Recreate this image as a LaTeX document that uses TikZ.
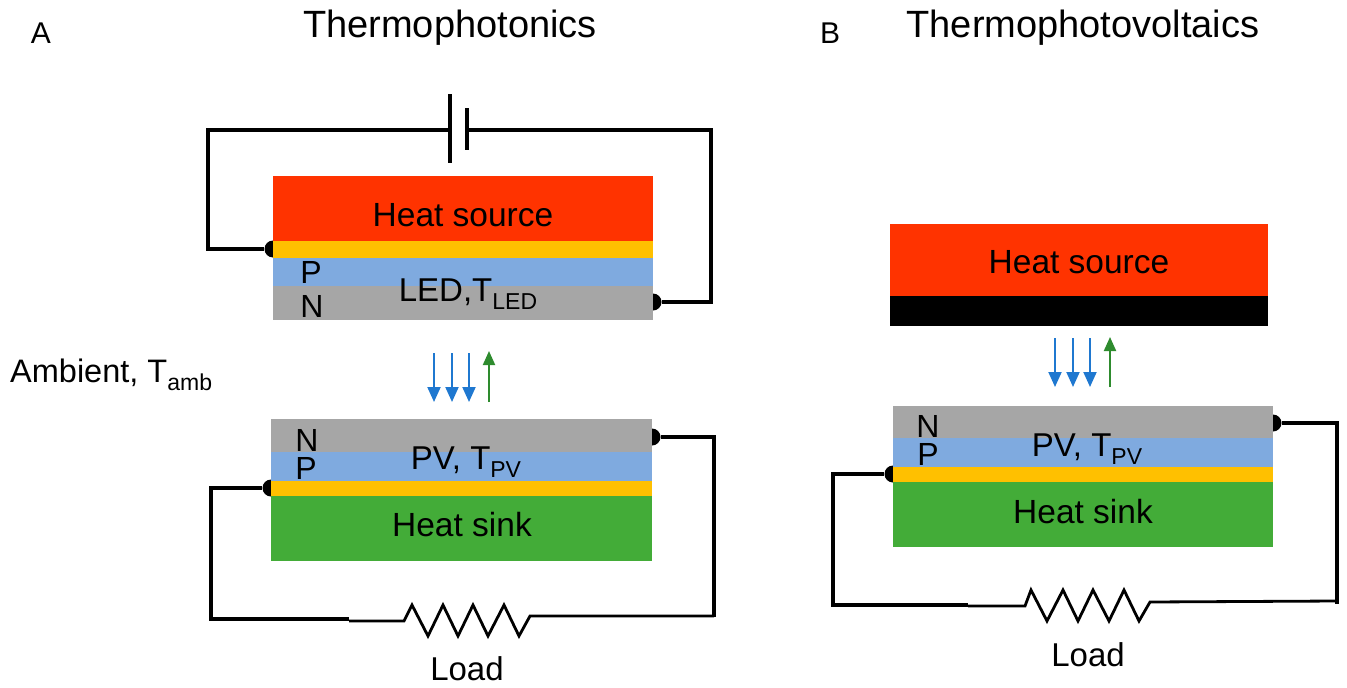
\documentclass[tikz,border=0pt]{standalone}
\usepackage{fontspec}
\setmainfont{Liberation Sans}
\usepackage{tikz}
\usetikzlibrary{arrows.meta}

\newcommand{\lowsub}[1]{\raisebox{-8pt}{\fontsize{23}{23}\selectfont #1}}
\tikzset{
	layer/.style={anchor=north west,inner sep=0pt,outer sep=0pt,fill=#1},
	txt/.style={inner sep=0pt,font=\fontsize{#1}{#1}\selectfont},
	contact/.style={circle,fill=black,inner sep=0pt,minimum size=17pt},
	wire/.style={line width=3.2pt,line join=miter},
	thinwire/.style={line width=2.8pt,line join=miter},
	inflow/.style={line width=2pt,draw=arrowblue,-{Triangle[width=13pt,length=15pt]}},
	outflow/.style={line width=2pt,draw=arrowgreen,-{Triangle[width=12pt,length=14pt]}}
}
\definecolor{sourcered}{HTML}{FF3300}
\definecolor{contactyellow}{HTML}{FFC000}
\definecolor{pblue}{HTML}{7FAADF}
\definecolor{ngray}{HTML}{A6A6A6}
\definecolor{sinkgreen}{HTML}{43AC38}
\definecolor{arrowblue}{HTML}{1F78D0}
\definecolor{arrowgreen}{HTML}{2E8B2E}

\begin{document}
\begin{tikzpicture}[x=1pt,y=-1pt]
	\useasboundingbox (0,0) rectangle (1347,688);

	% titles
	\node[txt=38] (titleA) at (450,28) {Thermophotonics};
	\node[txt=38] (titleB) at (1083,28) {Thermophotovoltaics};
	\node[txt=30] (letterA) at (41,33) {A};
	\node[txt=30] (letterB) at (830,33) {B};
	\node[txt=32.5,anchor=base west] (ambient) at (10,382) {Ambient, T\lowsub{amb}};

	% contacts go under the layers
	\node[contact] (ledP) at (273,249) {};
	\node[contact] (ledN) at (653,302) {};
	\node[contact] (pvA) at (652,437) {};
	\node[contact] (pvAp) at (271,488) {};
	\node[contact] (pvB) at (1273,423) {};
	\node[contact] (pvBp) at (893,474) {};

	% A: LED
	\node[layer=sourcered,minimum width=380pt,minimum height=65pt] (sourceA) at (273,176) {};
	\node[layer=contactyellow,minimum width=380pt,minimum height=17pt] (ledY) at (273,241) {};
	\node[layer=pblue,minimum width=380pt,minimum height=28pt] (ledB) at (273,258) {};
	\node[layer=ngray,minimum width=380pt,minimum height=34pt] (ledG) at (273,286) {};
	\node[txt=33.5] (sourceAtxt) at (463,215) {Heat source};
	\node[txt=32] (ledPtxt) at (311,272) {P};
	\node[txt=32] (ledNtxt) at (312,306) {N};
	\node[txt=33,anchor=base] (ledtxt) at (468,301) {LED,T\lowsub{LED}};

	% A: PV
	\node[layer=ngray,minimum width=381pt,minimum height=33pt] (pvGa) at (271,419) {};
	\node[layer=pblue,minimum width=381pt,minimum height=29pt] (pvBa) at (271,452) {};
	\node[layer=contactyellow,minimum width=381pt,minimum height=15pt] (pvYa) at (271,481) {};
	\node[layer=sinkgreen,minimum width=381pt,minimum height=65pt] (sinkA) at (271,496) {};
	\node[txt=33.5] (sinkAtxt) at (462,525) {Heat sink};
	\node[txt=32] (pvNa) at (307,440) {N};
	\node[txt=32] (pvPa) at (306,468) {P};
	\node[txt=33,anchor=base] (pvtxtA) at (466,469) {PV, T\lowsub{PV}};

	% B: source
	\node[layer=sourcered,minimum width=378pt,minimum height=72pt] (sourceB) at (890,224) {};
	\node[layer=black,minimum width=378pt,minimum height=30pt] (blackB) at (890,296) {};
	\node[txt=33.5] (sourceBtxt) at (1079,262) {Heat source};

	% B: PV
	\node[layer=ngray,minimum width=380pt,minimum height=32pt] (pvGb) at (893,406) {};
	\node[layer=pblue,minimum width=380pt,minimum height=29pt] (pvBb) at (893,438) {};
	\node[layer=contactyellow,minimum width=380pt,minimum height=15pt] (pvYb) at (893,467) {};
	\node[layer=sinkgreen,minimum width=380pt,minimum height=65pt] (sinkB) at (893,482) {};
	\node[txt=33.5] (sinkBtxt) at (1083,512) {Heat sink};
	\node[txt=32] (pvNb) at (928,426) {N};
	\node[txt=32] (pvPb) at (928,454) {P};
	\node[txt=33,anchor=base] (pvtxtB) at (1087,456) {PV, T\lowsub{PV}};

	% battery
	\coordinate (plateL) at (450,130);
	\coordinate (plateS) at (467,130);
	\draw[wire] (450,94) -- (450,163);
	\draw[wire] (467,108) -- (467,150);
	\draw[wire] (ledP) -- (208,249) -- (208,130) -- (plateL);
	\draw[wire] (plateS) -- (711,130) -- (711,302) -- (ledN);

	% loads
	\draw[wire] (pvAp) -- (211,488) -- (211,619) -- (349,619);
	\draw[thinwire] (349,621) -- (404,621) -- (412,605) -- (428,636) -- (443,605) -- (458,636)
		-- (473,605) -- (488,636) -- (504,605) -- (519,636) -- (530,616) -- (714,616);
	\draw[wire] (pvA) -- (714,437) -- (714,617);
	\node[txt=33] (loadA) at (467,669) {Load};

	\draw[wire] (pvBp) -- (833,474) -- (833,605) -- (968,605);
	\draw[thinwire] (968,606) -- (1025,606) -- (1031,590) -- (1047,621) -- (1063,590) -- (1078,621)
		-- (1093,590) -- (1109,621) -- (1124,590) -- (1139,621) -- (1150,602) -- (1337,601);
	\draw[wire] (pvB) -- (1337,423);
	\draw[wire] (1337,421) -- (1337,604);
	\node[txt=33] (loadB) at (1088,655) {Load};

	% photons
	\foreach \px in {434,452,469}
		\draw[inflow] (\px,353) -- (\px,402);
	\draw[outflow] (489,402) -- (489,351);
	\foreach \px in {1055,1073,1090}
		\draw[inflow] (\px,338) -- (\px,387);
	\draw[outflow] (1110,387) -- (1110,337);
\end{tikzpicture}
\end{document}
